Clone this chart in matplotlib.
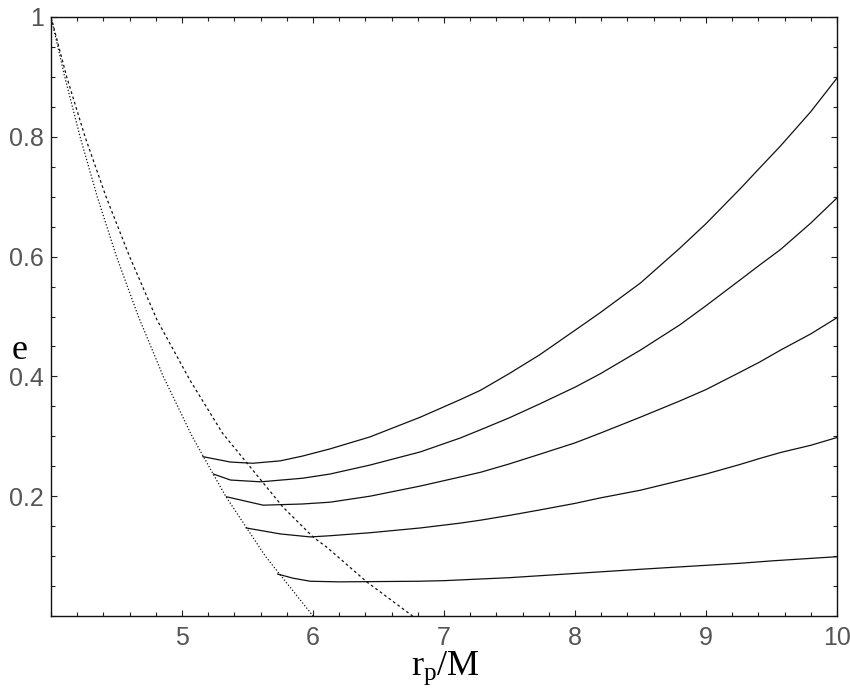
import numpy as np
import matplotlib
matplotlib.use("Agg")
import matplotlib.pyplot as plt
from matplotlib.ticker import FixedLocator, MultipleLocator

# separatrix (dotted) and the dashed boundary
sep_rp = np.array([4.0, 4.105, 4.222, 4.353, 4.5, 4.667, 4.857, 5.077, 5.333, 5.636, 6.0])
sep_e = np.array([1.0, 0.9, 0.8, 0.7, 0.6, 0.5, 0.4, 0.3, 0.2, 0.1, 0.0])

dash_rp = np.array([4.0, 4.12, 4.26, 4.42, 4.60, 4.81, 5.06, 5.31, 5.52, 5.77, 6.0, 6.11, 6.41, 6.76])
dash_e = np.array([1.0, 0.9, 0.80, 0.70, 0.60, 0.494, 0.394, 0.305, 0.249, 0.182, 0.132, 0.114, 0.057, 0.0])

# solid curves, named by their eccentricity at r_p = 10
c09_rp = np.array([5.16, 5.37, 5.54, 5.75, 5.92, 6.13, 6.435, 6.82, 7.122, 7.28, 7.50, 7.73, 8.0,
                   8.19, 8.50, 8.80, 9.0, 9.26, 9.41, 9.57, 9.80, 10.0])
c09_e = np.array([0.266, 0.257, 0.255, 0.259, 0.267, 0.279, 0.299, 0.332, 0.361, 0.377, 0.405, 0.436, 0.477,
                  0.506, 0.556, 0.614, 0.655, 0.713, 0.748, 0.785, 0.842, 0.898])

c07_rp = np.array([5.24, 5.37, 5.60, 5.92, 6.13, 6.435, 6.82, 7.122, 7.28, 7.50, 7.73, 8.0,
                   8.19, 8.50, 8.80, 9.0, 9.26, 9.41, 9.57, 9.80, 10.0])
c07_e = np.array([0.237, 0.227, 0.224, 0.230, 0.237, 0.252, 0.274, 0.297, 0.311, 0.331, 0.354, 0.382,
                  0.404, 0.444, 0.486, 0.518, 0.561, 0.586, 0.612, 0.656, 0.698])

c05_rp = np.array([5.34, 5.62, 5.92, 6.13, 6.435, 6.82, 7.122, 7.28, 7.50, 7.73, 8.0,
                   8.19, 8.50, 8.80, 9.0, 9.26, 9.41, 9.57, 9.80, 10.0])
c05_e = np.array([0.199, 0.185, 0.187, 0.190, 0.200, 0.217, 0.232, 0.240, 0.254, 0.270, 0.289,
                  0.305, 0.332, 0.359, 0.378, 0.407, 0.424, 0.444, 0.471, 0.498])

c03_rp = np.array([5.49, 5.75, 5.98, 6.13, 6.435, 6.82, 7.122, 7.28, 7.50, 7.73, 8.0,
                   8.19, 8.50, 8.80, 9.0, 9.26, 9.41, 9.57, 9.80, 10.0])
c03_e = np.array([0.147, 0.137, 0.132, 0.134, 0.139, 0.147, 0.155, 0.160, 0.168, 0.177, 0.188,
                  0.197, 0.210, 0.226, 0.237, 0.253, 0.263, 0.273, 0.285, 0.298])

c01_rp = np.array([5.73, 5.85, 5.98, 6.2, 6.8, 7.0, 7.5, 8.0, 8.5, 8.8, 9.26, 9.5, 10.0])
c01_e = np.array([0.070, 0.063, 0.058, 0.057, 0.058, 0.059, 0.064, 0.071, 0.078, 0.082, 0.088, 0.092, 0.099])

y_ticks = [0.2, 0.4, 0.6, 0.8, 1.0]
y_tick_labels = ["0.2", "0.4", "0.6", "0.8", "1"]
x_ticks = [5, 6, 7, 8, 9, 10]

plt.rcParams["mathtext.fontset"] = "custom"
plt.rcParams["mathtext.rm"] = "Liberation Serif"
plt.rcParams["mathtext.it"] = "Liberation Serif:italic"

fig = plt.figure(figsize=(8.5, 6.92), dpi=100)
ax = fig.add_axes([51 / 850, 1 - 616 / 692, (837 - 51) / 850, (616 - 17) / 692])

line_kw = dict(color="#111111", linewidth=0.9)
ax.plot(sep_rp, sep_e, linestyle=(0, (1, 1.6)), **line_kw)
ax.plot(dash_rp, dash_e, linestyle=(0, (2.2, 2.2)), **line_kw)
for rp, e in [(c09_rp, c09_e), (c07_rp, c07_e), (c05_rp, c05_e), (c03_rp, c03_e), (c01_rp, c01_e)]:
    ax.plot(rp, e, linestyle="-", solid_joinstyle="round", **line_kw)

ax.set_xlim(4, 10)
ax.set_ylim(0, 1)

ax.xaxis.set_major_locator(FixedLocator(x_ticks))
ax.xaxis.set_minor_locator(MultipleLocator(0.2))
ax.yaxis.set_major_locator(FixedLocator(y_ticks))
ax.yaxis.set_minor_locator(MultipleLocator(0.05))
ax.set_yticklabels(y_tick_labels)

ax.tick_params(which="both", direction="in", top=True, right=True, width=0.8, color="#222222")
ax.tick_params(which="major", length=4.5)
ax.tick_params(which="minor", length=3)
ax.tick_params(axis="x", pad=7)
ax.tick_params(axis="y", pad=5)
for lab in ax.get_xticklabels() + ax.get_yticklabels():
    lab.set_fontfamily("Liberation Sans")
    lab.set_fontsize(18)
    lab.set_color("#555555")

for sp in ax.spines.values():
    sp.set_linewidth(1.0)
    sp.set_color("#111111")

fig.text(20 / 850, 1 - 350 / 692, "e", family="Liberation Serif", fontsize=26,
         ha="center", va="center")
fig.text(445 / 850, 1 - 668 / 692, r"$\mathrm{r_p/M}$", fontsize=26,
         ha="center", va="center")

fig.savefig("out.png", dpi=100)
